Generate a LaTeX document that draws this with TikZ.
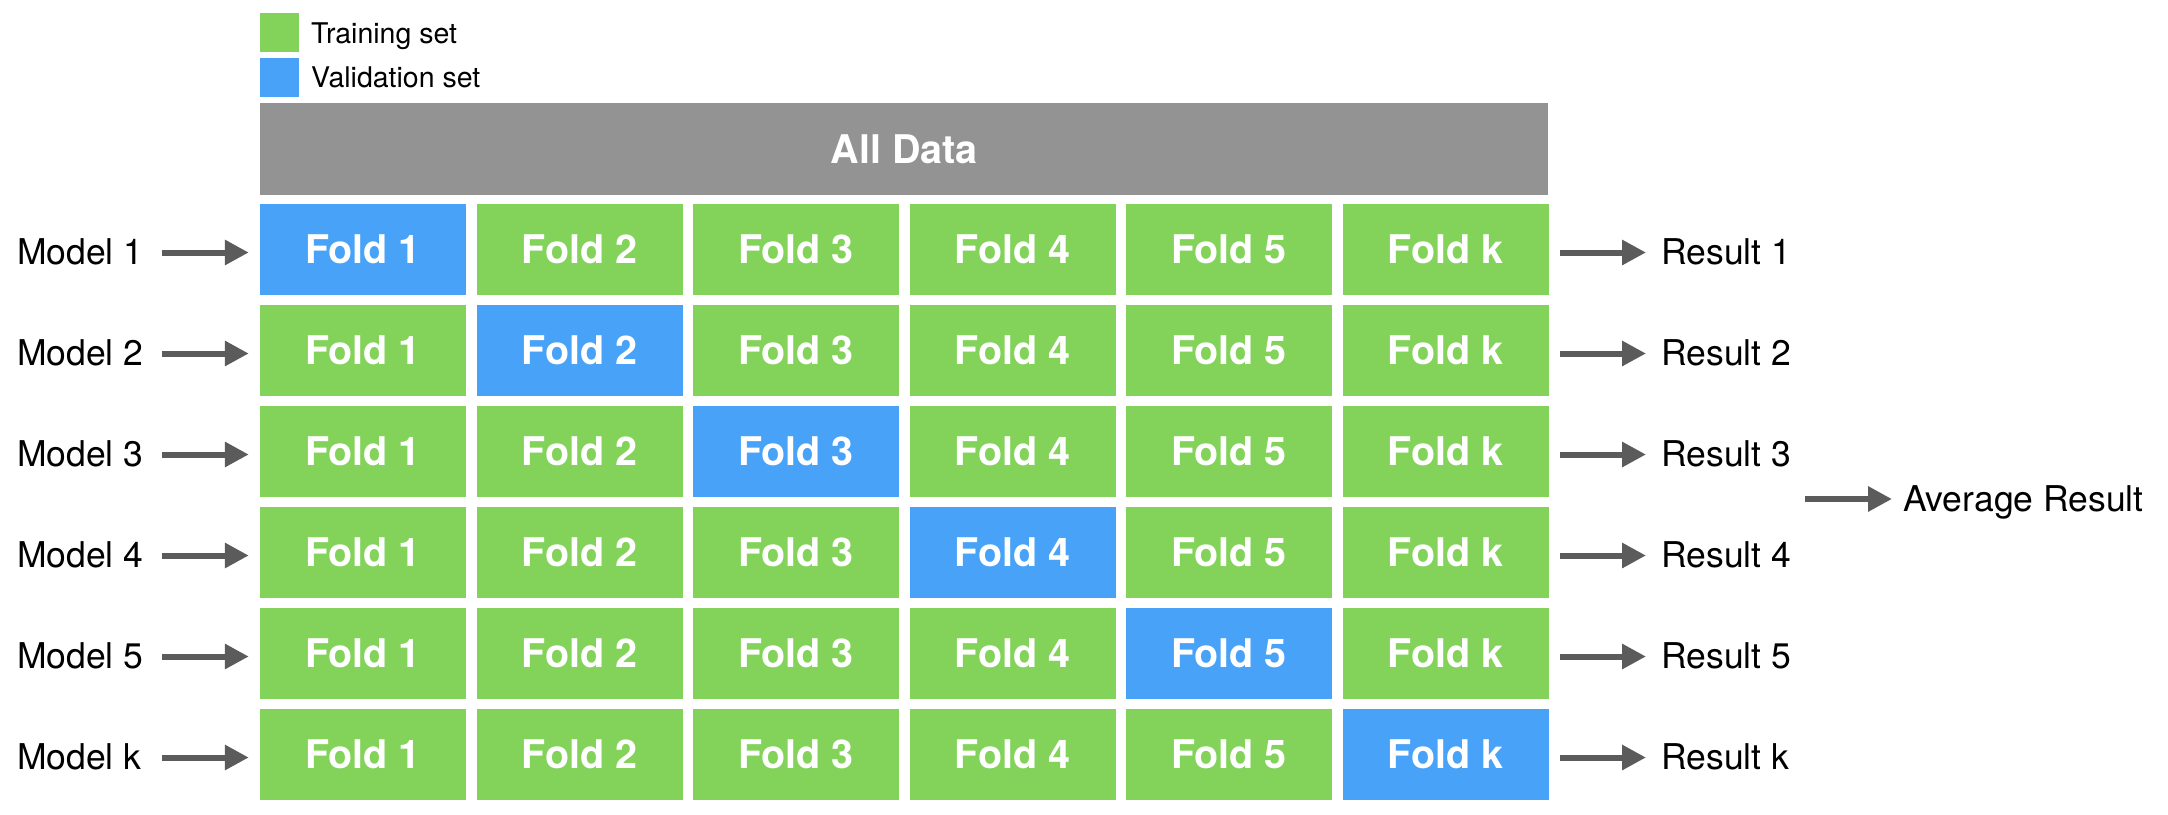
\documentclass[tikz,border=0pt]{standalone}
\usepackage{fontspec}
\setmainfont{TeX Gyre Heros}
\usetikzlibrary{arrows.meta}
\definecolor{trgreen}{HTML}{83D35B}
\definecolor{valblue}{HTML}{47A2F8}
\definecolor{bargray}{HTML}{939393}
\definecolor{arrgray}{HTML}{5B5B5B}
\tikzset{
  foldbox/.style={minimum width=206pt, minimum height=91pt, inner sep=0pt, text=white, font=\fontsize{39.5}{44}\selectfont\bfseries},
  trainbox/.style={foldbox, fill=trgreen},
  valbox/.style={foldbox, fill=valblue},
  lab/.style={inner sep=0pt, anchor=base west, font=\fontsize{35.5}{40}\selectfont},
  legtext/.style={inner sep=0pt, anchor=base west, font=\fontsize{28.5}{34}\selectfont},
  legsq/.style={minimum width=39pt, minimum height=39pt, inner sep=0pt, anchor=north west},
  arr/.style={draw=arrgray, line width=6pt, -{Triangle[length=24pt,width=24pt]}}
}
\begin{document}
\begin{tikzpicture}[x=1pt,y=-1pt]
\useasboundingbox (0,0) rectangle (2168,814);
% legend
\node[legsq, fill=trgreen] (lgG) at (260,13) {};
\node[legsq, fill=valblue] (lgB) at (260,58) {};
\node[legtext] (lgGt) at (311,43) {Training set};
\node[legtext] (lgBt) at (311,87) {Validation set};
% all data bar
\node[fill=bargray, minimum width=1288pt, minimum height=92pt, inner sep=0pt, anchor=north west, text=white, font=\fontsize{39.5}{44}\selectfont\bfseries] (all) at (260,103) {All Data};
% folds
\foreach \i/\li in {1/1,2/2,3/3,4/4,5/5,6/k}{
  \foreach \j/\lj in {1/1,2/2,3/3,4/4,5/5,6/k}{
    \ifnum\i=\j \def\st{valbox}\else\def\st{trainbox}\fi
    \node[\st] (f\i\j) at ({363+216.5*(\j-1)},{249.5+101*(\i-1)}) {Fold \lj};
  }
  \node[lab] (m\i) at (17,{264.5+101*(\i-1)}) {Model \li};
  \coordinate (s\i) at (162,{252.5+101*(\i-1)});
  \draw[arr, shorten >=11pt] (s\i) -- (s\i -| f\i1.west);
  \node[lab] (r\i) at (1661,{264.5+101*(\i-1)}) {Result \li};
  \draw[arr, shorten <=11pt, shorten >=15pt] (f\i6.east |- s\i) -- (r\i.west |- s\i);
}
% average
\coordinate (sa) at (1805,499);
\node[lab] (avg) at (1903,511) {Average Result};
\draw[arr, shorten >=11pt] (sa) -- (sa -| avg.west);
\end{tikzpicture}
\end{document}
